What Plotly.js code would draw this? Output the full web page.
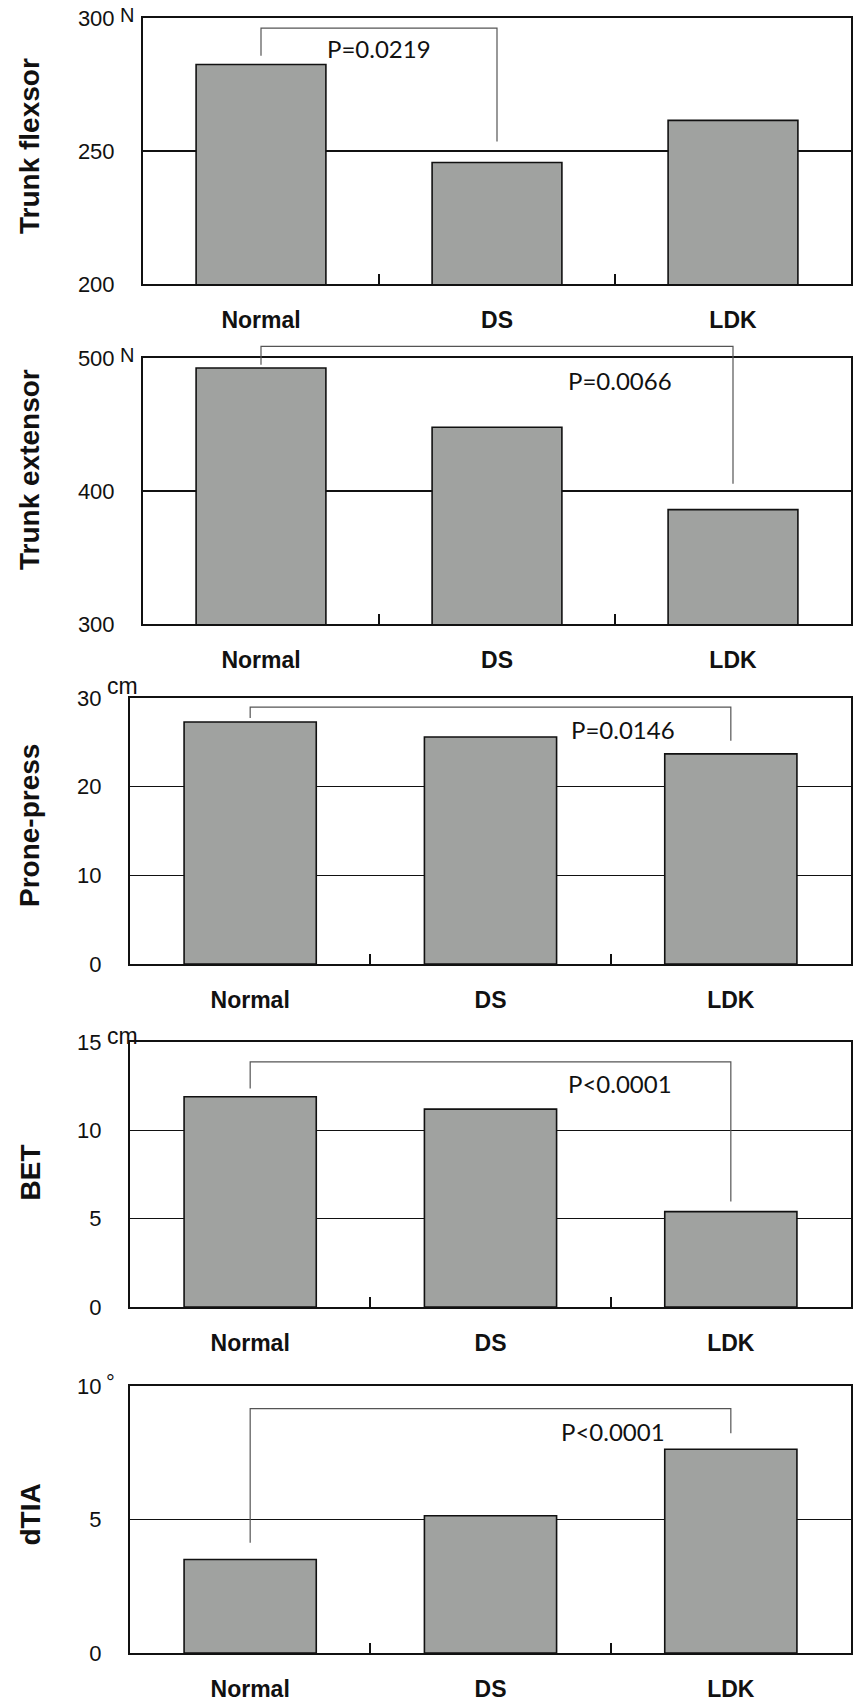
<!DOCTYPE html>
<html>
<head>
<meta charset="utf-8">
<script src="https://cdn.plot.ly/plotly-3.0.1.min.js"></script>
<style>
  html, body { margin: 0; padding: 0; background: #ffffff; }
  #chart { width: 854px; height: 1704px; }
</style>
</head>
<body>
<div id="chart"></div>
<script>
// ---- data ----
const categories = ['Normal', 'DS', 'LDK'];
const panelTitles = ['Trunk flexsor', 'Trunk extensor', 'Prone-press', 'BET', 'dTIA'];
const units = ['N', 'N', 'cm', 'cm', '°'];
const trunkFlexsor = [282.5, 245.7, 261.5];
const trunkExtensor = [492.5, 447.9, 386.0];
const pronePress = [27.3, 25.6, 23.7];
const bet = [11.9, 11.2, 5.4];
const dtia = [3.5, 5.14, 7.63];
const yRanges = [[200, 300], [300, 500], [0, 30], [0, 15], [0, 10]];
const yTickVals = [[200, 250, 300], [300, 400, 500], [0, 10, 20, 30], [0, 5, 10, 15], [0, 5, 10]];
const pLabels = ['P=0.0219', 'P=0.0066', 'P=0.0146', 'P<0.0001', 'P<0.0001'];
const bracketFrom = [0, 0, 0, 0, 0];
const bracketTo = [1, 2, 2, 2, 2];
const bracketTop = [296.2, 508.8, 28.98, 13.87, 9.15];
const bracketFromEnd = [285.8, 495.0, 27.74, 12.37, 4.13];
const bracketToEnd = [253.6, 405.5, 25.19, 5.97, 8.23];
const pLabelX = [0.5, 1.52, 1.55, 1.54, 1.51];
const pLabelY = [288.7, 483.2, 26.5, 12.65, 8.29];

const series = [trunkFlexsor, trunkExtensor, pronePress, bet, dtia];

// ---- layout geometry ----
const W = 854, H = 1704;
const pxTopBottom = [[18, 284], [358, 624], [698, 964], [1042, 1307], [1386, 1653]];
const pxLeft = [143, 143, 130, 130, 130];
const pxRight = 851;
const unitShiftY = [3, 3, 12, 6, 4];
const unitShiftX = [-25, -25, -25, -25, -26];
const unitSize = [20, 20, 23, 23, 22];
const titleShiftY = [5, 21, 5, 2, 5];

const barColor = '#a0a2a0';
const inkColor = '#111111';
const tickFont = { family: 'Liberation Sans, Arial, sans-serif', size: 22, color: '#111' };
const catFont = { family: 'Liberation Sans, Arial, sans-serif', size: 23, color: '#111', weight: 'bold' };

const data = [];
const layout = {
  width: W, height: H,
  margin: { l: 0, r: 0, t: 0, b: 0 },
  paper_bgcolor: '#ffffff',
  plot_bgcolor: '#ffffff',
  showlegend: false,
  bargap: 0.45,
  shapes: [],
  annotations: []
};

function yDomain(i) {
  return [1 - pxTopBottom[i][1] / H, 1 - pxTopBottom[i][0] / H];
}
function toPaperY(i, v) {
  const d = yDomain(i), r = yRanges[i];
  return d[0] + (v - r[0]) / (r[1] - r[0]) * (d[1] - d[0]);
}

for (let i = 0; i < 5; i++) {
  const n = i === 0 ? '' : String(i + 1);
  const xa = 'x' + n, ya = 'y' + n;
  data.push({
    type: 'bar',
    x: categories,
    y: series[i],
    xaxis: xa, yaxis: ya,
    marker: { color: barColor, line: { color: inkColor, width: 1.6 } },
    hoverinfo: 'x+y'
  });
  const dom = yDomain(i);
  layout['xaxis' + n] = {
    type: 'category',
    domain: [pxLeft[i] / W, pxRight / W],
    anchor: ya,
    showline: true, mirror: true, linecolor: inkColor, linewidth: 2,
    showgrid: false, zeroline: false,
    ticks: 'inside', tickson: 'boundaries', ticklen: 10, tickwidth: 2, tickcolor: inkColor,
    tickfont: catFont,
    ticklabelstandoff: 14,
    fixedrange: true
  };
  layout['yaxis' + n] = {
    domain: dom,
    anchor: xa,
    range: yRanges[i],
    tickmode: 'array',
    tickvals: yTickVals[i],
    ticktext: yTickVals[i].map(String),
    showline: true, mirror: true, linecolor: inkColor, linewidth: 2,
    showgrid: true, gridcolor: inkColor, gridwidth: 1.6,
    zeroline: false,
    ticks: '',
    tickfont: tickFont,
    ticklabelstandoff: 22,
    fixedrange: true
  };

  // unit next to the top tick label
  layout.annotations.push({
    xref: 'paper', yref: 'paper',
    x: pxLeft[i] / W, y: dom[1],
    xanchor: 'left', yanchor: 'middle',
    xshift: unitShiftX[i], yshift: unitShiftY[i],
    text: units[i], showarrow: false,
    font: { family: 'Liberation Sans, Arial, sans-serif', size: unitSize[i], color: '#111111' }
  });

  // rotated panel title
  layout.annotations.push({
    xref: 'paper', yref: 'paper',
    x: 30 / W, y: (dom[0] + dom[1]) / 2,
    xanchor: 'center', yanchor: 'middle',
    yshift: titleShiftY[i],
    textangle: -90,
    text: panelTitles[i], showarrow: false,
    font: { family: 'Liberation Sans, Arial, sans-serif', size: 28, color: '#111', weight: 'bold' }
  });

  // significance bracket
  const lineStyle = { color: '#555555', width: 1.2 };
  const yTop = toPaperY(i, bracketTop[i]);
  layout.shapes.push({
    type: 'path', xref: xa, yref: 'paper',
    path: 'M ' + bracketFrom[i] + ',' + toPaperY(i, bracketFromEnd[i]) +
          ' L ' + bracketFrom[i] + ',' + yTop +
          ' L ' + bracketTo[i] + ',' + yTop +
          ' L ' + bracketTo[i] + ',' + toPaperY(i, bracketToEnd[i]),
    line: lineStyle
  });
  layout.annotations.push({
    xref: xa, yref: ya,
    x: pLabelX[i], y: pLabelY[i],
    xanchor: 'center', yanchor: 'middle',
    text: pLabels[i], showarrow: false,
    font: { family: 'Lato, Open Sans, sans-serif', size: 24, color: '#111' }
  });
}

Plotly.newPlot('chart', data, layout, { displayModeBar: false, staticPlot: true });
</script>
</body>
</html>
